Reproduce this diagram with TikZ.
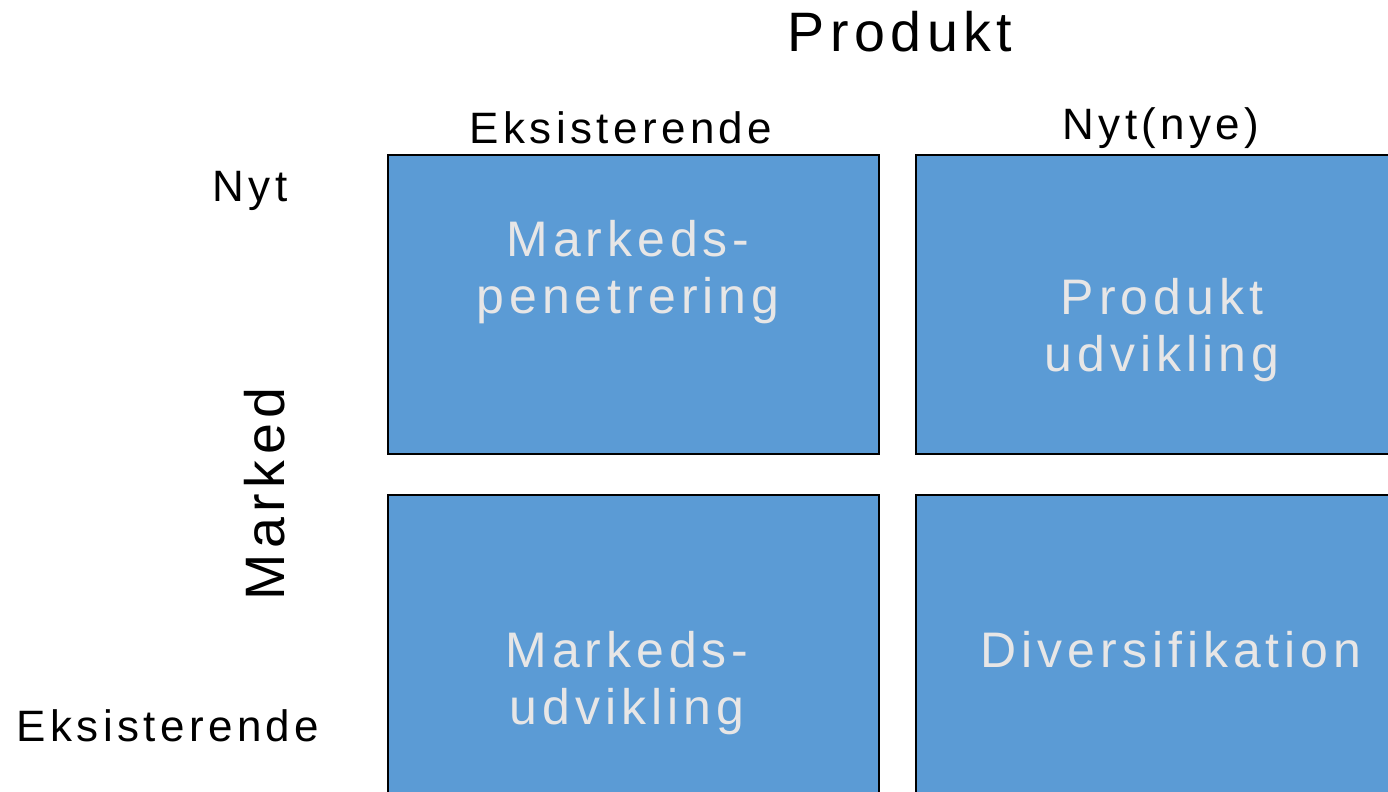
\documentclass[tikz,border=0pt]{standalone}
\usepackage{fontspec}
\setmainfont{Liberation Sans}[LetterSpace=10]
\definecolor{feltblaa}{HTML}{5B9BD5}
\definecolor{feltgraa}{HTML}{E7E6E6}
\begin{document}
\begin{tikzpicture}[x=0.01cm,y=-0.01cm,
  felt/.style={draw=black,line width=0.7pt,fill=feltblaa,inner sep=0pt,
    minimum width=4.91cm,minimum height=2.99cm},
  felttekst/.style={text=feltgraa,align=center,inner sep=0pt,
    font=\fontsize{14.2}{16}\selectfont},
  akse/.style={inner sep=0pt,font=\fontsize{15.8}{18}\selectfont},
  etiket/.style={inner sep=0pt,font=\fontsize{12.5}{15}\selectfont}]
\useasboundingbox (0,0) rectangle (1388,792);
% felter
\node[felt] (mp) at (633.5,304.5) {};
\node[felt] (pu) at (1161.5,304.5) {};
\node[felt] (mu) at (633.5,644.5) {};
\node[felt] (dv) at (1161.5,644.5) {};
\node[felttekst] (mpt) at (628,272) {Markeds-\\penetrering};
\node[felttekst] (put) at (1162,330) {Produkt\\udvikling};
\node[felttekst] (mut) at (627,683) {Markeds-\\udvikling};
\node[felttekst] (dvt) at (1171,650) {Diversifikation};
% akser
\node[akse] (produkt) at (900,32) {Produkt};
\node[akse,rotate=90] (marked) at (265,494) {Marked};
\node[etiket] (peks) at (621,128) {Eksisterende};
\node[etiket] (pnyt) at (1161,128) {Nyt(nye)};
\node[etiket] (mnyt) at (250,191) {Nyt};
\node[etiket] (meks) at (168,726) {Eksisterende};
\end{tikzpicture}
\end{document}
